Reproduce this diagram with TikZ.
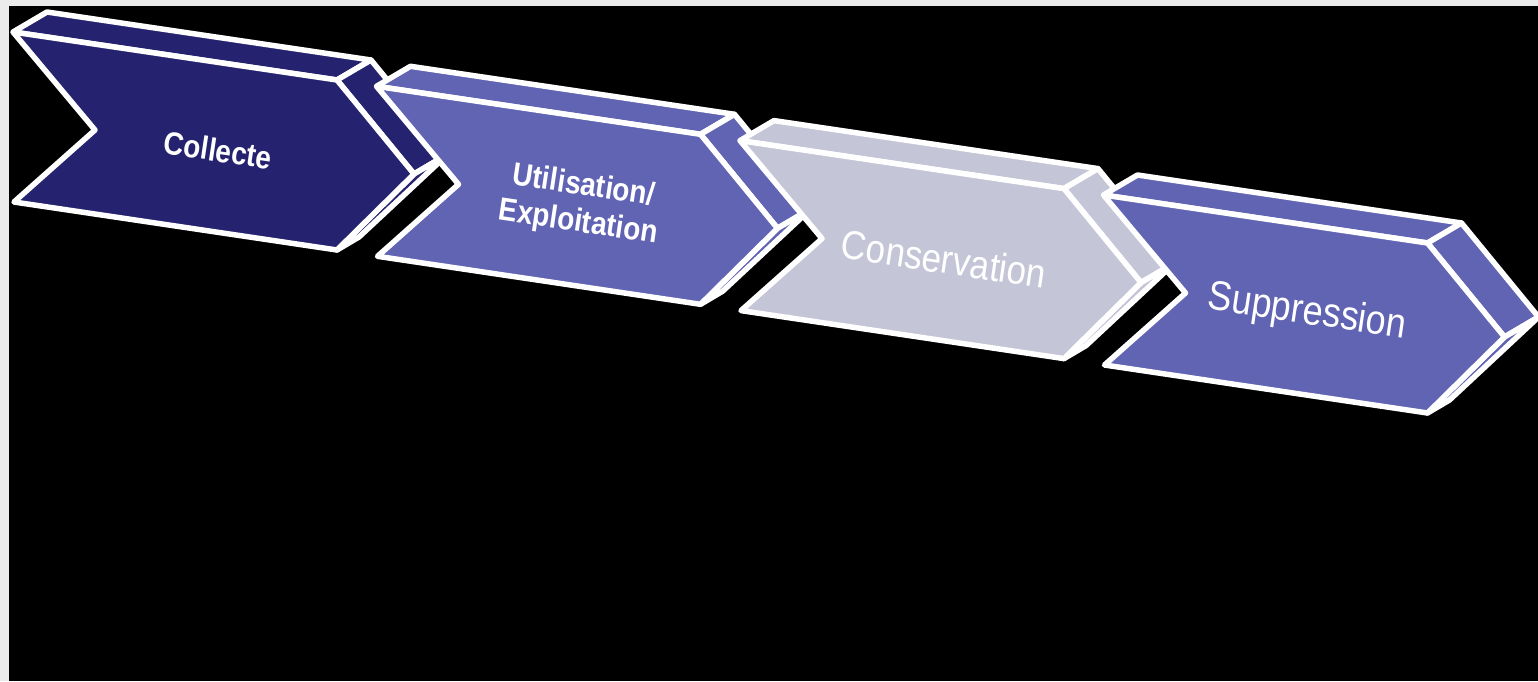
\documentclass[tikz,border=0pt]{standalone}
\usepackage{fontspec}
\setmainfont{Liberation Sans}
\definecolor{navyc}{HTML}{25236F}
\definecolor{violetc}{HTML}{6163B3}
\definecolor{lavc}{HTML}{C5C5D8}
\definecolor{marginc}{HTML}{EBEBEB}
\newcommand\chevshape[3]{%
 \begin{scope}[shift={(#1,#2)}]
  \filldraw[face, fill=#3] (13,32) -- (337,80) -- (371,60) -- (47,12) -- cycle;
  \filldraw[face, fill=#3] (337,80) -- (414,174) -- (448,154) -- (371,60) -- cycle;
  \filldraw[face, fill=#3] (414,174) -- (337,250) -- (359,237) -- (448,154) -- cycle;
  \filldraw[face, fill=#3] (13,32) -- (337,80) -- (414,174) -- (337,250) -- (14,202) -- (95,130) -- cycle;
 \end{scope}}
\begin{document}
\begin{tikzpicture}[x=1pt,y=-1pt,
  face/.style={draw=white, line width=5.5pt, line join=round},
  lbl/.style={text=white, rotate=-8.5, yscale=1.15, transform shape, align=center, inner sep=0pt}]
\fill[marginc] (0,0) rectangle (1538,681);
\fill[black] (9,6) rectangle (1538,681);
\useasboundingbox (0,0) rectangle (1538,681);
\chevshape{0}{0}{navyc}
\chevshape{363.5}{54.3}{violetc}
\chevshape{727}{108.6}{lavc}
\chevshape{1090.5}{163}{violetc}
\node[lbl, font=\bfseries\fontsize{28}{32}\selectfont] (collecte) at (218,150) {Collecte};
\node[lbl, font=\bfseries\fontsize{28}{32}\selectfont] (util) at (581,205) {Utilisation/\\Exploitation};
\node[lbl, font=\fontsize{35}{38}\selectfont] (cons) at (944,259) {Conservation};
\node[lbl, font=\fontsize{36}{38}\selectfont] (supp) at (1307,313) {Suppression};
\end{tikzpicture}
\end{document}
